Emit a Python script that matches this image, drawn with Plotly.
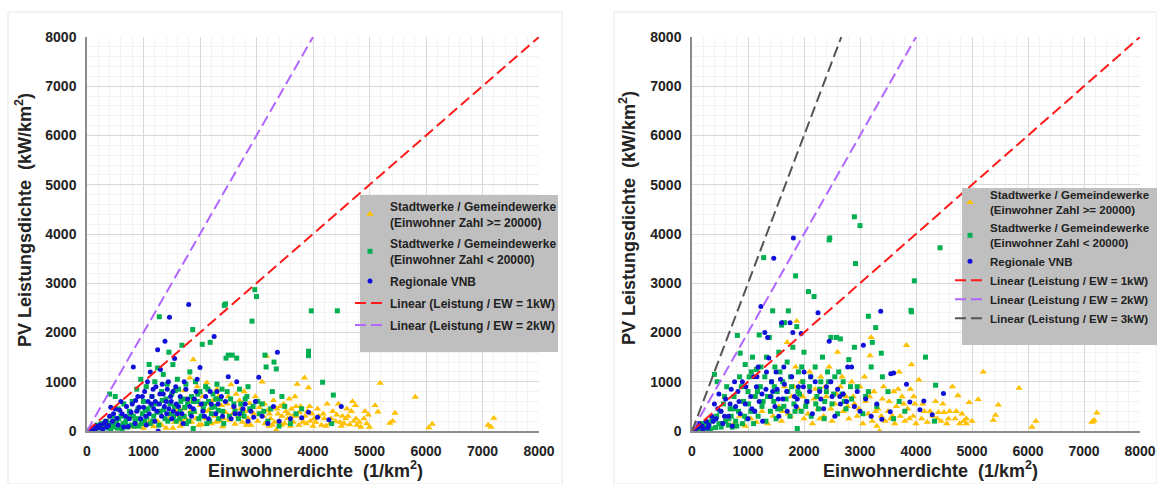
import plotly.graph_objects as go

# ---------------- data: left panel ----------------
left_yellow = [
    (650,120),(820,80),(950,150),(1000,60),(1100,180),(1180,90),(1250,200),(1320,120),(1400,60),(1450,250),
    (1550,180),(1600,320),(1650,100),(1700,450),(1720,820),(1750,250),(1800,600),(1820,1080),(1850,180),(1880,1450),
    (1900,380),(1950,900),(1980,120),(2000,520),(2050,700),(2100,250),(2120,980),(2150,420),(2200,150),(2230,620),
    (2260,300),(2300,850),(2350,200),(2380,520),(2400,90),(2450,380),(2500,700),(2520,220),(2550,940),(2600,480),
    (2620,140),(2680,300),(2700,620),(2750,180),(2780,800),(2800,400),(2850,260),(2880,560),(2900,120),(2950,350),
    (2980,700),(3020,200),(3050,480),(3100,1000),(3120,300),(3150,150),(3180,1520),(3200,420),(3220,100),(3250,250),
    (3300,620),(3320,180),(3350,20),(3380,350),(3400,200),(3420,500),(3450,300),(3500,150),(3520,400),(3550,250),
    (3580,650),(3600,100),(3620,450),(3650,180),(3680,700),(3700,300),(3720,950),(3750,120),(3780,500),(3800,250),
    (3850,1080),(3880,150),(3900,400),(3920,880),(3950,200),(3980,350),(4000,100),(4050,180),(4100,300),(4150,120),
    (4200,250),(4250,550),(4300,150),(4350,400),(4400,200),(4450,550),(4500,100),(4520,300),(4580,250),(4600,450),
    (4650,130),(4700,600),(4720,200),(4750,520),(4780,120),(4850,80),(4900,250),(4950,150),(4980,330),(5000,80),
    (5100,520),(5150,390),(5190,970),(5360,160),(5410,200),(5450,365),(5810,690),(6050,70),(6110,140),(7100,120),
    (7150,80),(7200,260),
    (1520,60),(1580,420),(1680,200),(1760,650),(1830,400),(1930,250),(2030,130),(2080,400),(2180,550),(2280,180),
    (2330,700),(2420,250),(2480,550),(2580,350),(2640,750),(2720,450),(2820,120),(2920,480),(3060,350),(3140,550),
    (3230,350),(3280,120),(3360,450),(3440,120),(3480,550),(3560,350),(3640,300),(3700,500),(3760,380),(3820,180),
    (3860,300),(3940,500),(4020,250),(4080,450),(4180,350),(4230,100),(4320,250),(4420,330),(4480,180),(4550,150),
    (4620,300),(4680,400),(4760,250),(4820,180),(4920,400),
]
left_green = [
    (50,20),(100,60),(150,30),(180,120),(200,80),(250,150),(280,40),(300,100),(350,200),(380,60),
    (400,750),(420,150),(450,300),(480,80),(500,700),(520,200),(550,450),(580,100),(600,300),(620,50),
    (650,550),(680,180),(700,250),(750,400),(780,120),(800,600),(820,300),(850,200),(880,850),(900,450),
    (920,100),(950,1050),(980,350),(1000,600),(1020,200),(1050,900),(1080,450),(1100,1350),(1120,150),(1150,700),
    (1180,300),(1200,1000),(1220,550),(1250,1280),(1280,2320),(1300,400),(1320,800),(1350,1150),(1380,250),(1400,650),
    (1420,950),(1450,1600),(1480,350),(1500,750),(1520,1350),(1550,500),(1580,200),(1600,1050),(1620,850),(1650,400),
    (1680,1740),(1700,650),(1720,300),(1750,950),(1780,550),(1800,200),(1820,1200),(1850,700),(1870,2060),(1880,50),
    (1900,400),(1920,1000),(1950,600),(1980,250),(2000,800),(2040,1760),(2060,450),(2100,900),(2120,150),(2150,600),
    (2180,1800),(2200,350),(2230,750),(2260,500),(2300,950),(2330,250),(2360,650),(2400,400),(2430,2550),(2450,2580),
    (2460,1480),(2480,800),(2500,1540),(2520,300),(2570,1540),(2600,550),(2650,1480),(2680,250),(2700,850),(2750,400),
    (2800,650),(2850,900),(2920,2230),(2940,500),(2970,2870),(3000,2730),(3050,350),(3100,550),(3150,1540),(3170,1300),
    (3200,200),(3250,450),(3310,1400),(3350,1260),(3400,100),(3450,700),(3500,500),(3600,150),(3700,350),(3800,450),
    (3920,1620),(3920,1530),(3970,2440),(4170,990),(4360,730),(4330,150),(4430,2440),
    (120,20),(260,60),(320,180),(420,40),(460,120),(540,60),(560,250),(640,150),(720,80),(760,300),
    (840,100),(900,250),(960,150),(1030,420),(1060,280),(1130,520),(1160,200),(1240,380),(1270,120),(1330,620),
    (1360,430),(1430,200),(1470,550),(1530,300),(1560,820),(1640,250),(1660,600),(1730,480),(1760,150),(1830,350),
    (1880,600),(1960,750),(2020,300),(2080,550),(2140,850),(2170,200),(2210,480),(2280,650),(2320,420),(2390,850),
    (2420,150),(2540,650),(2620,400),(2720,550),(2780,300),(2830,700),(2880,450),(3020,600),(3130,400),(3280,800),
]
left_blue = [
    (50,10),(100,50),(150,100),(200,60),(230,120),(300,150),(350,80),(400,300),(420,480),(450,200),
    (500,450),(550,120),(600,600),(620,350),(650,80),(700,500),(750,250),(800,550),(820,1300),(850,150),
    (880,400),(900,700),(950,250),(1000,480),(1020,800),(1050,120),(1080,600),(1100,350),(1120,1200),(1150,700),
    (1180,450),(1200,200),(1220,900),(1250,1650),(1260,0),(1280,550),(1300,1250),(1320,300),(1350,750),(1380,1820),
    (1400,600),(1420,850),(1450,450),(1460,2310),(1480,700),(1500,250),(1520,800),(1550,1470),(1580,550),(1600,350),
    (1650,700),(1700,150),(1750,850),(1800,2570),(1820,500),(1850,300),(1900,650),(1950,1050),(2000,1290),(2050,400),
    (2100,700),(2150,250),(2200,550),(2250,1920),(2280,350),(2300,800),(2400,300),(2450,600),(2500,1100),(2550,250),
    (2600,500),(2650,1000),(2700,350),(2800,550),(2850,200),(2900,400),(2950,280),(3040,1090),(3100,300),(3200,150),
    (3300,500),(3370,1600),(3400,200),(3600,250),(3800,270),(3920,380),(4080,280),(4280,230),(4500,500),
    (130,30),(180,90),(280,40),(330,200),(380,110),(470,350),(530,260),(580,420),(680,300),(730,90),
    (780,380),(860,620),(920,480),(980,700),(1040,300),(1070,1000),(1140,550),(1170,850),(1210,600),(1240,400),
    (1290,750),(1330,950),(1370,500),(1410,350),(1440,1000),(1490,600),(1530,400),(1570,900),(1620,500),(1680,350),
    (1720,1000),(1780,650),(1880,450),(1930,800),(2020,550),(2080,300),(2180,800),(2320,550),(2380,700),(2620,350),
    (2760,450),(2980,600),
]

# ---------------- data: right panel ----------------
right_yellow = [
    (600,200),(750,150),(850,300),(950,100),(1050,250),(1150,180),(1250,400),(1350,150),(1450,300),(1550,500),
    (1600,200),(1650,900),(1700,1800),(1720,350),(1780,700),(1850,1300),(1870,2230),(1900,450),(1950,1000),(2000,250),
    (2050,600),(2100,1200),(2150,150),(2200,850),(2250,450),(2300,1100),(2350,300),(2400,700),(2450,1300),(2500,200),
    (2550,550),(2600,1600),(2650,900),(2700,400),(2750,700),(2800,250),(2850,1000),(2900,550),(2950,300),(3000,900),
    (3050,150),(3100,600),(3150,350),(3180,1530),(3200,1900),(3220,200),(3250,800),(3300,100),(3320,450),(3350,0),
    (3380,300),(3400,650),(3450,200),(3500,400),(3550,250),(3600,800),(3620,150),(3650,500),(3700,1200),(3720,300),
    (3750,700),(3800,200),(3830,1740),(3850,450),(3900,850),(3920,1350),(3950,300),(3980,550),(4000,150),(4050,1040),
    (4100,250),(4150,400),(4200,180),(4300,300),(4350,600),(4400,380),(4450,200),(4500,380),(4550,150),(4600,400),
    (4650,900),(4700,250),(4750,720),(4780,150),(4850,200),(4900,150),(4950,580),(5000,200),(5110,640),(5200,1200),
    (5380,220),(5420,320),(5470,530),(5840,870),(6070,80),(6140,200),(7140,180),(7160,200),(7180,220),(7230,370),
    (1620,400),(1760,300),(1820,900),(1980,700),(2070,350),(2180,650),(2280,250),(2380,900),(2480,450),(2580,750),
    (2680,1100),(2780,500),(2880,700),(2980,450),(3080,1100),(3170,700),(3280,400),(3420,900),(3520,600),(3580,300),
    (3680,850),(3780,550),(3880,250),(3960,700),(4120,550),(4250,400),(4380,250),(4480,550),(4580,250),(4720,400),
    (4820,350),(4900,250),
]
right_green = [
    (50,30),(100,80),(150,50),(200,120),(230,60),(260,180),(300,100),(330,40),(380,250),(400,1150),
    (420,70),(450,1000),(480,150),(500,400),(520,80),(560,550),(600,200),(620,900),(650,120),(680,450),
    (700,300),(720,80),(750,700),(780,200),(810,1940),(830,400),(860,1580),(880,900),(900,150),(920,600),
    (950,1350),(980,250),(1000,800),(1020,1100),(1050,400),(1080,1500),(1100,150),(1130,700),(1150,1250),(1180,300),
    (1200,1950),(1220,900),(1250,500),(1280,3520),(1300,1100),(1320,200),(1350,700),(1380,1900),(1400,400),(1420,1000),
    (1440,2440),(1460,600),(1480,1300),(1500,250),(1520,800),(1550,1600),(1580,450),(1600,2150),(1620,1000),(1650,2200),
    (1680,650),(1700,1400),(1720,2440),(1750,300),(1780,900),(1800,1700),(1820,550),(1850,3150),(1870,2120),(1880,50),
    (1900,1200),(1920,750),(1950,400),(1980,1000),(2000,1600),(2050,600),(2080,2830),(2100,900),(2130,300),(2180,2730),
    (2200,1300),(2230,700),(2260,450),(2300,1000),(2330,1500),(2360,250),(2400,800),(2420,1200),(2450,3880),(2460,3920),
    (2480,1900),(2500,550),(2550,1100),(2580,1900),(2600,350),(2650,1870),(2680,750),(2700,1000),(2750,450),(2800,1450),
    (2850,650),(2900,1700),(2920,3400),(2950,900),(2900,4350),(3000,4170),(3050,350),(3100,700),(3150,2330),(3200,1300),
    (3220,1800),(3280,2100),(3300,500),(3380,1580),(3400,1100),(3500,800),(3600,250),(3700,600),(3800,400),(3910,2450),
    (3920,2420),(3970,3050),(4170,1500),(4330,200),(4350,930),(4430,3720),
    (120,40),(180,150),(280,60),(350,200),(440,300),(540,150),(580,700),(660,250),(740,450),(800,100),
    (850,1100),(940,300),(1010,550),(1060,1200),(1110,400),(1170,800),(1230,1300),(1270,600),(1330,1500),(1410,700),
    (1470,900),(1530,450),(1570,1200),(1640,500),(1710,800),(1760,1100),(1840,400),(1890,800),(1960,1300),(2030,500),
    (2120,1100),(2210,550),(2280,850),(2370,600),(2440,1000),(2530,750),(2620,1200),(2720,600),(2830,900),(3150,800),
]
right_blue = [
    (50,20),(80,60),(120,150),(150,80),(200,40),(250,200),(300,120),(350,300),(400,550),(430,250),
    (480,750),(520,400),(550,150),(600,650),(650,300),(700,850),(720,100),(780,500),(820,800),(860,350),
    (900,1000),(950,550),(1000,250),(1050,700),(1100,1100),(1120,400),(1150,900),(1180,1300),(1200,600),(1230,2530),
    (1260,200),(1300,2000),(1320,850),(1350,1900),(1370,1480),(1400,700),(1420,1000),(1460,3510),(1480,500),(1500,1200),
    (1520,850),(1550,300),(1580,1050),(1600,2200),(1620,650),(1650,950),(1700,400),(1750,2200),(1780,1100),(1800,2000),
    (1810,3920),(1830,700),(1860,500),(1900,900),(1950,1980),(2000,1200),(2050,600),(2100,800),(2150,350),(2200,1000),
    (2250,2400),(2300,650),(2350,450),(2400,900),(2450,1820),(2500,700),(2550,300),(2600,850),(2650,550),(2700,750),
    (2780,1300),(2850,1300),(2900,500),(2950,800),(3000,400),(3060,1740),(3100,650),(3200,300),(3300,550),(3370,2430),
    (3390,240),(3540,390),(3550,1160),(3600,1180),(3830,950),(3890,590),(4070,430),(4140,610),(4290,330),(4490,760),
    (180,100),(280,60),(380,200),(460,450),(580,300),(680,550),(760,1000),(840,600),(960,900),(1070,450),
    (1160,1100),(1250,750),(1330,1200),(1440,800),(1540,650),(1640,1300),(1690,800),(1880,650),(1990,900),(2120,1100),
    (2280,800),(2480,1000),(2640,700),(2760,600),
]

# reference lines (Leistung / EW = 1, 2, 3 kW)
kw1_x, kw1_y = [0, 8000], [0, 8000]
kw2_x, kw2_y = [0, 4000], [0, 8000]
kw3_x, kw3_y = [0, 2667], [0, 8000]

axis_ticks = [0, 1000, 2000, 3000, 4000, 5000, 6000, 7000, 8000]

name_y = "Stadtwerke / Gemeindewerke<br>(Einwohner Zahl >= 20000)"
name_g = "Stadtwerke / Gemeindewerke<br>(Einwohner Zahl < 20000)"
name_b = "Regionale VNB"
name_1 = "Linear (Leistung / EW = 1kW)"
name_2 = "Linear (Leistung / EW = 2kW)"
name_3 = "Linear (Leistung / EW = 3kW)"

YEL, GRN, BLU = "#FFC000", "#00B050", "#1010D8"
RED, PUR, GRY = "#FF1A1A", "#B266FF", "#555555"

W, H = 1157, 484
def px_x(p): return p / W
def px_y(p): return 1 - p / H

fig = go.Figure()

def add_points(pts, name, color, symbol, size, xa, ya, legend, grp):
    fig.add_trace(go.Scatter(
        x=[p[0] for p in pts], y=[p[1] for p in pts], mode="markers", name=name,
        marker=dict(color=color, symbol=symbol, size=size, line=dict(width=0)),
        xaxis=xa, yaxis=ya, legend=legend, legendgroup=grp, showlegend=True))

def add_line(xs, ys, name, color, xa, ya, legend, grp):
    fig.add_trace(go.Scatter(
        x=xs, y=ys, mode="lines", name=name,
        line=dict(color=color, width=2, dash="11px,5px"),
        xaxis=xa, yaxis=ya, legend=legend, legendgroup=grp))

# left panel
add_points(left_yellow, name_y, YEL, "triangle-up", 6.5, "x", "y", "legend", "a1")
add_points(left_green, name_g, GRN, "square", 5, "x", "y", "legend", "a2")
add_points(left_blue, name_b, BLU, "circle", 5, "x", "y", "legend", "a3")
add_line(kw1_x, kw1_y, name_1, RED, "x", "y", "legend", "a4")
add_line(kw2_x, kw2_y, name_2, PUR, "x", "y", "legend", "a5")

# right panel
add_points(right_yellow, name_y, YEL, "triangle-up", 6.5, "x2", "y2", "legend2", "b1")
add_points(right_green, name_g, GRN, "square", 5, "x2", "y2", "legend2", "b2")
add_points(right_blue, name_b, BLU, "circle", 5, "x2", "y2", "legend2", "b3")
add_line(kw1_x, kw1_y, name_1, RED, "x2", "y2", "legend2", "b4")
add_line(kw2_x, kw2_y, name_2, PUR, "x2", "y2", "legend2", "b5")
add_line(kw3_x, kw3_y, name_3, GRY, "x2", "y2", "legend2", "b6")

tickfont = dict(family="Liberation Sans, Arial, sans-serif", size=14, color="#222222", weight="bold")
ax_common = dict(range=[0, 8000], tickvals=axis_ticks, tickfont=tickfont,
                 showgrid=True, gridcolor="#D9D9D9", gridwidth=1,
                 minor=dict(dtick=200, showgrid=True, gridcolor="#F3F3F3", gridwidth=1),
                 zeroline=False, showline=True, linecolor="#8C8C8C", linewidth=1.5,
                 ticks="", ticklabelstandoff=6, fixedrange=True, automargin=False)

y_dom = [px_y(431), px_y(37)]
legfont_l = dict(family="Liberation Sans, Arial, sans-serif", size=12, color="#222222", weight="bold")
legfont_r = dict(family="Liberation Sans, Arial, sans-serif", size=11.5, color="#222222", weight="bold")
fig.update_layout(
    width=W, height=H, margin=dict(l=0, r=0, t=0, b=0, autoexpand=False),
    paper_bgcolor="white", plot_bgcolor="white",
    font=dict(family="Liberation Sans, Arial, sans-serif", color="#222222"),
    xaxis=dict(domain=[px_x(87), px_x(539)], anchor="y", **ax_common),
    yaxis=dict(domain=y_dom, anchor="x", **ax_common),
    xaxis2=dict(domain=[px_x(692), px_x(1140)], anchor="y2", **ax_common),
    yaxis2=dict(domain=y_dom, anchor="x2", **ax_common),
    legend=dict(x=px_x(350), y=px_y(192), xanchor="left", yanchor="top",
                bgcolor="rgba(0,0,0,0)", borderwidth=0, tracegroupgap=3,
                font=legfont_l, itemwidth=30),
    legend2=dict(x=px_x(950), y=px_y(181), xanchor="left", yanchor="top",
                 bgcolor="rgba(0,0,0,0)", borderwidth=0, tracegroupgap=0,
                 font=legfont_r, itemwidth=30),
    showlegend=True,
)

# panel frames and legend boxes
shapes = [
    dict(type="rect", xref="paper", yref="paper", x0=px_x(8), x1=px_x(562), y0=px_y(484), y1=px_y(12),
         line=dict(color="#E6E6E6", width=1), fillcolor="rgba(0,0,0,0)", layer="below"),
    dict(type="rect", xref="paper", yref="paper", x0=px_x(614), x1=px_x(1157), y0=px_y(484), y1=px_y(12),
         line=dict(color="#E6E6E6", width=1), fillcolor="rgba(0,0,0,0)", layer="below"),
    dict(type="rect", xref="paper", yref="paper", x0=px_x(360), x1=px_x(558), y0=px_y(352), y1=px_y(195),
         line=dict(width=0), fillcolor="#BFBFBF", layer="above"),
    dict(type="rect", xref="paper", yref="paper", x0=px_x(962), x1=px_x(1157), y0=px_y(345), y1=px_y(188),
         line=dict(width=0), fillcolor="#BFBFBF", layer="above"),
]
fig.update_layout(shapes=shapes)

title_font = dict(family="Liberation Sans, Arial, sans-serif", size=18, color="#222222", weight="bold")
xt = "Einwohnerdichte  (1/km<sup>2</sup>)"
yt = "PV Leistungsdichte  (kW/km<sup>2</sup>)"
fig.add_annotation(text=xt, xref="paper", yref="paper", x=px_x(315), y=px_y(469),
                   showarrow=False, font=title_font, xanchor="center", yanchor="middle")
fig.add_annotation(text=xt, xref="paper", yref="paper", x=px_x(930), y=px_y(469),
                   showarrow=False, font=title_font, xanchor="center", yanchor="middle")
fig.add_annotation(text=yt, xref="paper", yref="paper", x=px_x(23), y=px_y(220), textangle=-90,
                   showarrow=False, font=title_font, xanchor="center", yanchor="middle")
fig.add_annotation(text=yt, xref="paper", yref="paper", x=px_x(628), y=px_y(218), textangle=-90,
                   showarrow=False, font=title_font, xanchor="center", yanchor="middle")

fig.write_html("out.html", config={"displayModeBar": False},
               post_script="document.body.style.margin='0';document.body.style.overflow='hidden';")
